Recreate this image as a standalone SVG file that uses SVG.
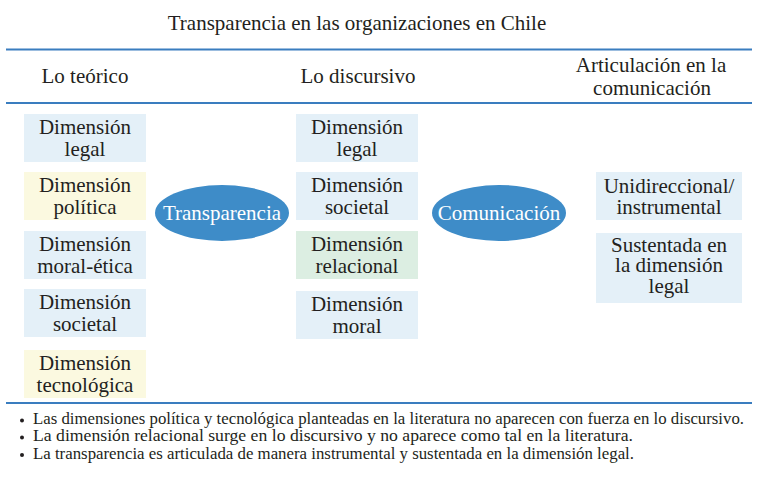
<svg xmlns="http://www.w3.org/2000/svg" width="757" height="484" viewBox="0 0 757 484">
<style>
text{fill:#231F20;font-size:21px}
.c{text-anchor:middle}
.w{fill:#FFFFFF}
.rule{stroke:#3A7DBF;stroke-width:2}
.blue{fill:#E4F0F8}
.yel{fill:#FBF9E0}
.grn{fill:#DCEEE2}
.ell{fill:#3E8CC8}
.b{font-size:16.5px}
</style>
<rect width="757" height="484" fill="#FFFFFF"/>
<g font-family="Liberation Serif, Times New Roman, Tinos, DejaVu Serif, serif">
<text class="c" x="357" y="29.5">Transparencia en las organizaciones en Chile</text>
<g id="rules">
<line class="rule" x1="6" y1="49.5" x2="752" y2="49.5"/>
<line class="rule" x1="6" y1="103" x2="752" y2="103"/>
<line class="rule" x1="6" y1="403" x2="752" y2="403"/>
</g>
<g id="headers">
<text class="c" x="85" y="83">Lo teórico</text>
<text class="c" x="358" y="83">Lo discursivo</text>
<text class="c" x="651" y="72">Articulación en la</text>
<text class="c" x="652" y="95">comunicación</text>
</g>
<g id="connectors"></g>
<g id="t-legal"><rect class="blue" x="24" y="114" width="122" height="48"/><text class="c" x="85" y="134">Dimensión</text><text class="c" x="85" y="156">legal</text></g>
<g id="t-politica"><rect class="yel" x="24" y="172" width="122" height="48"/><text class="c" x="85" y="192">Dimensión</text><text class="c" x="85" y="214">política</text></g>
<g id="t-moral"><rect class="blue" x="24" y="231" width="122" height="48"/><text class="c" x="85" y="251">Dimensión</text><text class="c" x="85" y="273">moral-ética</text></g>
<g id="t-societal"><rect class="blue" x="24" y="289" width="122" height="48"/><text class="c" x="85" y="309">Dimensión</text><text class="c" x="85" y="331">societal</text></g>
<g id="t-tecno"><rect class="yel" x="24" y="350" width="122" height="48"/><text class="c" x="85" y="370">Dimensión</text><text class="c" x="85" y="392">tecnológica</text></g>
<g id="transparencia"><ellipse class="ell" cx="222" cy="213" rx="67" ry="28"/><text class="c w" x="222" y="219.5">Transparencia</text></g>
<g id="d-legal"><rect class="blue" x="296" y="114" width="122" height="48"/><text class="c" x="357" y="134">Dimensión</text><text class="c" x="357" y="156">legal</text></g>
<g id="d-societal"><rect class="blue" x="296" y="172" width="122" height="48"/><text class="c" x="357" y="192">Dimensión</text><text class="c" x="357" y="214">societal</text></g>
<g id="d-relacional"><rect class="grn" x="296" y="231" width="122" height="48"/><text class="c" x="357" y="251">Dimensión</text><text class="c" x="357" y="273">relacional</text></g>
<g id="d-moral"><rect class="blue" x="296" y="291" width="122" height="48"/><text class="c" x="357" y="311">Dimensión</text><text class="c" x="357" y="333">moral</text></g>
<g id="comunicacion"><ellipse class="ell" cx="499" cy="213" rx="67" ry="28"/><text class="c w" x="499" y="219.5">Comunicación</text></g>
<g id="a-unidireccional"><rect class="blue" x="596" y="172" width="146" height="48"/><text class="c" x="669" y="193">Unidireccional/</text><text class="c" x="669" y="214">instrumental</text></g>
<g id="a-sustentada"><rect class="blue" x="596" y="233" width="146" height="70"/><text class="c" x="669" y="251.5">Sustentada en</text><text class="c" x="669" y="272">la dimensión</text><text class="c" x="669" y="292.5">legal</text></g>
<g id="notes">
<circle cx="22" cy="420.5" r="2" fill="#231F20"/>
<circle cx="22" cy="437.5" r="2" fill="#231F20"/>
<circle cx="22" cy="455" r="2" fill="#231F20"/>
<text class="b" x="33" y="424" textLength="711" lengthAdjust="spacingAndGlyphs">Las dimensiones política y tecnológica planteadas en la literatura no aparecen con fuerza en lo discursivo.</text>
<text class="b" x="33" y="441" textLength="600" lengthAdjust="spacingAndGlyphs">La dimensión relacional surge en lo discursivo y no aparece como tal en la literatura.</text>
<text class="b" x="33" y="458.5" textLength="601" lengthAdjust="spacingAndGlyphs">La transparencia es articulada de manera instrumental y sustentada en la dimensión legal.</text>
</g>
</g>
</svg>
